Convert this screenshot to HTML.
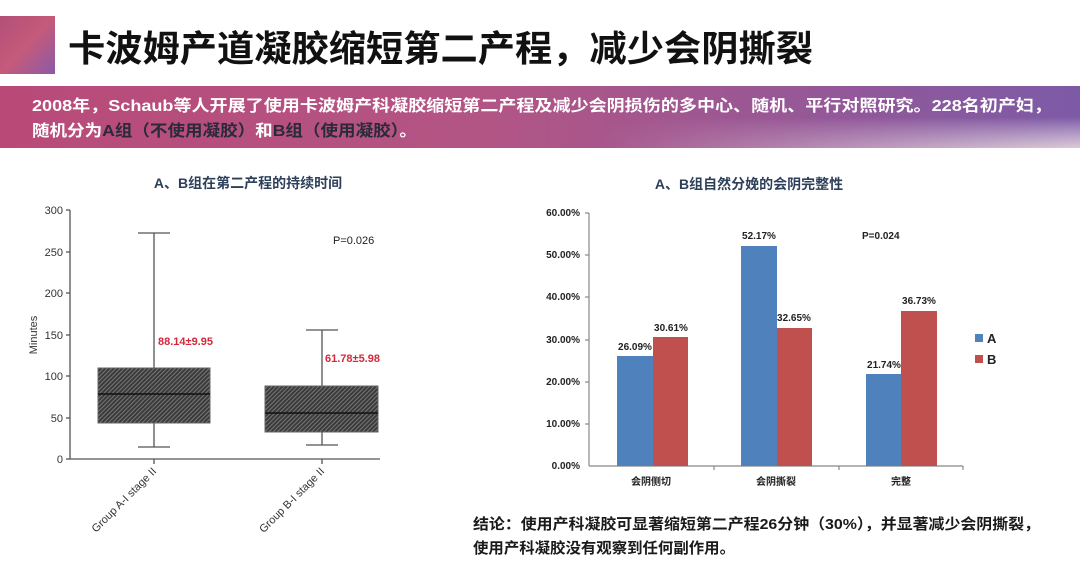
<!DOCTYPE html>
<html><head><meta charset="utf-8"><style>
html,body{margin:0;padding:0;background:#fff;}
svg{display:block;}
text{font-family:"Liberation Sans","Noto Sans CJK SC",sans-serif;}
</style></head><body>
<svg width="1080" height="563" viewBox="0 0 1080 563" xmlns="http://www.w3.org/2000/svg">
<defs>
<linearGradient id="sq" x1="0" y1="0" x2="1" y2="1">
<stop offset="0" stop-color="#b24f78"/><stop offset="0.5" stop-color="#c55a7a"/><stop offset="1" stop-color="#8a5aa8"/>
</linearGradient>
<linearGradient id="ban" x1="0" y1="0" x2="1" y2="0">
<stop offset="0" stop-color="#b94a78"/><stop offset="0.45" stop-color="#b25585"/><stop offset="1" stop-color="#7d5aa6"/>
</linearGradient>
<linearGradient id="fade" x1="0" y1="0" x2="0" y2="1">
<stop offset="0.5" stop-color="#fff" stop-opacity="0"/><stop offset="1" stop-color="#f3e6e0" stop-opacity="0.8"/>
</linearGradient>
<linearGradient id="fadeh" x1="0" y1="0" x2="1" y2="0">
<stop offset="0.55" stop-color="#fff" stop-opacity="0"/><stop offset="1" stop-color="#fff" stop-opacity="1"/>
</linearGradient>
<mask id="m"><rect x="0" y="86" width="1080" height="62" fill="url(#fadeh)"/></mask>
<pattern id="hatch" width="3" height="3" patternUnits="userSpaceOnUse" patternTransform="rotate(45)">
<rect width="3" height="3" fill="#3a3a3a"/><rect width="1" height="3" fill="#777"/>
</pattern>
</defs>
<rect x="0" y="16" width="55" height="58" fill="url(#sq)"/>
<text x="68" y="61" font-size="36" font-weight="bold" fill="#111" textLength="745" lengthAdjust="spacingAndGlyphs">卡波姆产道凝胶缩短第二产程，减少会阴撕裂</text>
<rect x="0" y="86" width="1080" height="62" fill="url(#ban)"/>
<rect x="0" y="86" width="1080" height="62" fill="url(#fade)" mask="url(#m)"/>
<text x="32" y="111" font-size="16" font-weight="bold" fill="#fff" textLength="1020" lengthAdjust="spacingAndGlyphs">2008年，Schaub等人开展了使用卡波姆产科凝胶缩短第二产程及减少会阴损伤的多中心、随机、平行对照研究。228名初产妇，</text>
<text x="32" y="136" font-size="16" font-weight="bold" fill="#fff" textLength="385" lengthAdjust="spacingAndGlyphs">随机分为<tspan fill="#2a2a3a">A组（不使用凝胶）</tspan>和<tspan fill="#2a2a3a">B组（使用凝胶）</tspan>。</text>

<text x="248" y="188" font-size="14" font-weight="bold" fill="#2e3f5a" text-anchor="middle">A、B组在第二产程的持续时间</text>
<text x="749" y="189" font-size="14" font-weight="bold" fill="#2e3f5a" text-anchor="middle">A、B组自然分娩的会阴完整性</text>

<!-- box plot -->
<g stroke="#555" stroke-width="1.3" fill="none">
<line x1="70" y1="210" x2="70" y2="459"/>
<line x1="70" y1="459" x2="380" y2="459"/>
<line x1="66" y1="210" x2="70" y2="210"/><line x1="66" y1="252" x2="70" y2="252"/>
<line x1="66" y1="293" x2="70" y2="293"/><line x1="66" y1="335" x2="70" y2="335"/>
<line x1="66" y1="376" x2="70" y2="376"/><line x1="66" y1="418" x2="70" y2="418"/>
<line x1="66" y1="459" x2="70" y2="459"/>
<line x1="154" y1="459" x2="154" y2="464"/><line x1="322" y1="459" x2="322" y2="464"/>
<line x1="154" y1="233" x2="154" y2="447"/>
<line x1="138" y1="233" x2="170" y2="233"/><line x1="138" y1="447" x2="170" y2="447"/>
<line x1="322" y1="330" x2="322" y2="445"/>
<line x1="306" y1="330" x2="338" y2="330"/><line x1="306" y1="445" x2="338" y2="445"/>
</g>
<rect x="98" y="368" width="112" height="55" fill="url(#hatch)" stroke="#666"/>
<line x1="98" y1="394" x2="210" y2="394" stroke="#111" stroke-width="1.5"/>
<rect x="265" y="386" width="113" height="46" fill="url(#hatch)" stroke="#666"/>
<line x1="265" y1="413" x2="378" y2="413" stroke="#111" stroke-width="1.5"/>
<g font-size="11" fill="#333" text-anchor="end">
<text x="63" y="214">300</text><text x="63" y="256">250</text><text x="63" y="297">200</text>
<text x="63" y="339">150</text><text x="63" y="380">100</text><text x="63" y="422">50</text><text x="63" y="463">0</text>
</g>
<text x="37" y="335" font-size="11" fill="#333" text-anchor="middle" transform="rotate(-90 37 335)">Minutes</text>
<text x="157" y="472" font-size="11" fill="#333" text-anchor="end" transform="rotate(-45 157 472)">Group A-I stage II</text>
<text x="325" y="472" font-size="11" fill="#333" text-anchor="end" transform="rotate(-45 325 472)">Group B-I stage II</text>
<text x="333" y="244" font-size="11" fill="#222">P=0.026</text>
<text x="158" y="345" font-size="11" font-weight="bold" fill="#d4283a">88.14±9.95</text>
<text x="325" y="362" font-size="11" font-weight="bold" fill="#d4283a">61.78±5.98</text>

<!-- bar chart -->
<g stroke="#888" stroke-width="1.2">
<line x1="589" y1="213" x2="589" y2="466"/>
<line x1="589" y1="466" x2="963" y2="466"/>
<line x1="585" y1="213" x2="589" y2="213"/><line x1="585" y1="255" x2="589" y2="255"/>
<line x1="585" y1="297" x2="589" y2="297"/><line x1="585" y1="340" x2="589" y2="340"/>
<line x1="585" y1="382" x2="589" y2="382"/><line x1="585" y1="424" x2="589" y2="424"/>
<line x1="714" y1="466" x2="714" y2="470"/><line x1="839" y1="466" x2="839" y2="470"/><line x1="963" y1="466" x2="963" y2="470"/>
</g>
<g font-size="10" font-weight="bold" fill="#222" text-anchor="end">
<text x="580" y="216">60.00%</text><text x="580" y="258">50.00%</text><text x="580" y="300">40.00%</text>
<text x="580" y="343">30.00%</text><text x="580" y="385">20.00%</text><text x="580" y="427">10.00%</text><text x="580" y="469">0.00%</text>
</g>
<g fill="#4f81bd">
<rect x="617" y="356" width="36" height="110"/>
<rect x="741" y="246" width="36" height="220"/>
<rect x="866" y="374" width="35" height="92"/>
</g>
<g fill="#c0504d">
<rect x="653" y="337" width="35" height="129"/>
<rect x="777" y="328" width="35" height="138"/>
<rect x="901" y="311" width="36" height="155"/>
</g>
<g font-size="10" font-weight="bold" fill="#222" text-anchor="middle">
<text x="635" y="350">26.09%</text><text x="671" y="331">30.61%</text>
<text x="759" y="239">52.17%</text><text x="794" y="321">32.65%</text>
<text x="884" y="368">21.74%</text><text x="919" y="304">36.73%</text>
</g>
<text x="862" y="239" font-size="10" font-weight="bold" fill="#222">P=0.024</text>
<g font-size="10" font-weight="bold" fill="#222" text-anchor="middle">
<text x="651" y="485">会阴侧切</text><text x="776" y="485">会阴撕裂</text><text x="901" y="485">完整</text>
</g>
<rect x="975" y="334" width="8" height="8" fill="#4f81bd"/>
<rect x="975" y="355" width="8" height="8" fill="#c0504d"/>
<text x="987" y="343" font-size="13" font-weight="bold" fill="#222">A</text>
<text x="987" y="364" font-size="13" font-weight="bold" fill="#222">B</text>

<text x="473" y="529" font-size="15" font-weight="bold" fill="#1a1a1a" textLength="567" lengthAdjust="spacingAndGlyphs">结论：使用产科凝胶可显著缩短第二产程26分钟（30%），并显著减少会阴撕裂，</text>
<text x="473" y="553" font-size="15" font-weight="bold" fill="#1a1a1a" textLength="262" lengthAdjust="spacingAndGlyphs">使用产科凝胶没有观察到任何副作用。</text>
</svg>
</body></html>
